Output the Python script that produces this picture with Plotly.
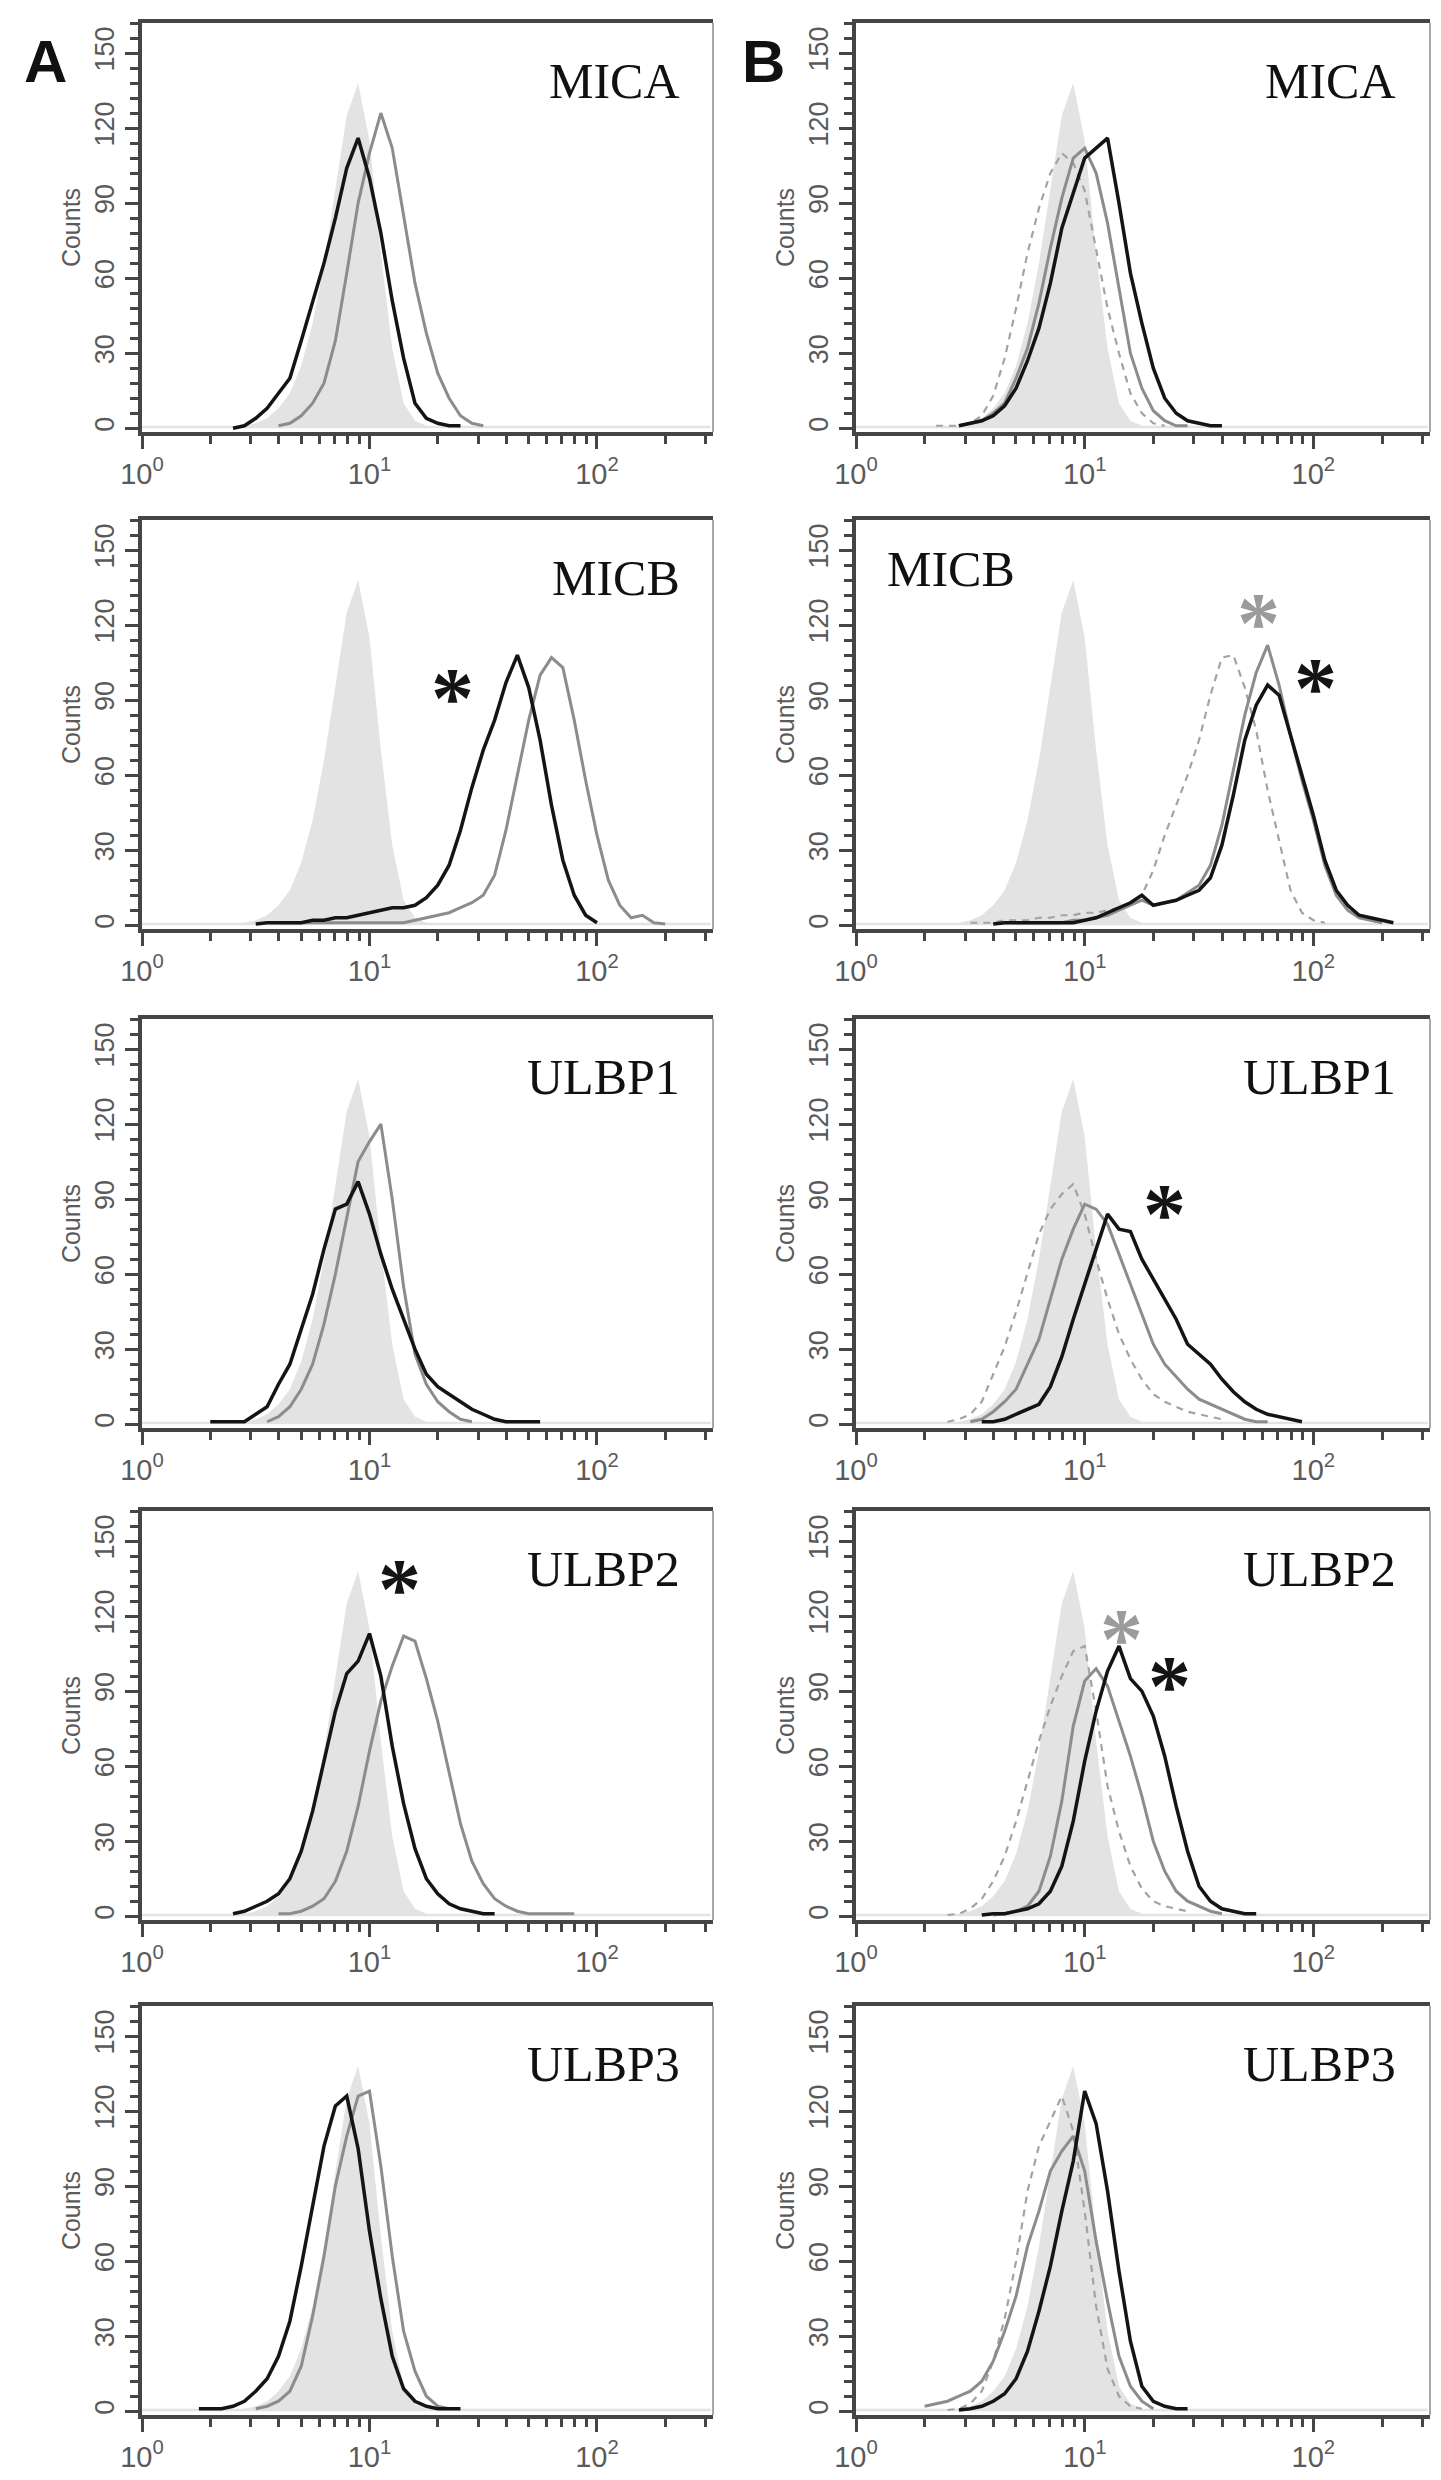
import plotly.graph_objects as go
from plotly.subplots import make_subplots

# histogram channels are spaced 0.05 decades apart; each series is
# (log10 of its first channel, counts per channel)
LOG_STEP = 0.05

MARKERS = ["MICA", "MICB", "ULBP1", "ULBP2", "ULBP3"]

# isotype control (filled), shared by all panels
CONTROL = (0.00, [1, 1, 1, 1, 1, 1, 1, 1, 1,
                  1, 2, 4, 8, 14, 25, 42, 66, 95, 125, 138, 115, 70, 32, 10, 3, 1,
                  1, 1, 1, 1, 1, 1, 1, 1, 1, 1, 1, 1, 1, 1, 1, 1, 1, 1, 1, 1, 1, 1, 1, 1, 1])

# column A: gray and black histograms
A_MICA_GRAY = (0.60, [1, 2, 5, 10, 18, 35, 62, 90, 110, 126, 112, 85, 58, 38, 22, 12, 5, 2, 1])
A_MICA_BLACK = (0.40, [0, 1, 4, 8, 14, 20, 35, 50, 66, 84, 104, 116, 100, 78, 51, 28, 10, 4, 2, 1, 1])
A_MICB_GRAY = (0.60, [1, 1, 1, 1, 1, 1, 1, 1, 1, 1, 1, 1, 2, 3, 4, 5, 7, 9, 12, 20, 38, 60, 82,
                      100, 107, 103, 82, 58, 36, 18, 8, 3, 4, 1, 0.5])
A_MICB_BLACK = (0.50, [0.5, 1, 1, 1, 1, 2, 2, 3, 3, 4, 5, 6, 7, 7, 8, 11, 16, 24, 38, 55, 70, 82,
                       97, 108, 95, 74, 48, 26, 12, 4, 1])
A_ULBP1_GRAY = (0.55, [1, 3, 7, 14, 24, 40, 60, 82, 105, 113, 120, 90, 55, 28, 16, 9, 5, 2, 1])
A_ULBP1_BLACK = (0.30, [1, 1, 1, 1, 4, 7, 16, 24, 38, 52, 70, 86, 88, 97, 84, 68, 54, 42, 30, 20,
                        15, 12, 9, 6, 4, 2, 1, 1, 1, 1])
A_ULBP2_GRAY = (0.60, [1, 1, 2, 4, 7, 14, 26, 44, 66, 86, 100, 112, 110, 95, 78, 57, 37, 22, 13,
                       7, 4, 2, 1, 1, 1, 1, 1])
A_ULBP2_BLACK = (0.40, [1, 2, 4, 6, 9, 15, 26, 42, 62, 82, 97, 102, 113, 96, 68, 45, 27, 15, 9,
                        5, 3, 2, 1, 1])
A_ULBP3_GRAY = (0.50, [1, 2, 4, 8, 18, 38, 62, 90, 110, 126, 128, 98, 62, 32, 16, 6, 2, 1])
A_ULBP3_BLACK = (0.25, [1, 1, 1, 2, 4, 8, 13, 22, 36, 58, 82, 106, 122, 126, 105, 72, 45, 22, 9,
                        4, 2, 1, 1, 1])

# column B: dashed gray, solid gray and black histograms
B_MICA_DASH = (0.35, [1, 1, 1, 2, 5, 13, 28, 48, 70, 88, 102, 110, 106, 95, 72, 48, 30, 14, 6, 2, 1])
B_MICA_GRAY = (0.45, [1, 2, 3, 6, 10, 20, 32, 50, 72, 92, 108, 112, 102, 82, 56, 30, 16, 7, 3, 1, 1])
B_MICA_BLACK = (0.45, [1, 2, 3, 5, 9, 16, 27, 40, 58, 80, 94, 108, 112, 116, 90, 62, 42, 24, 12,
                       6, 3, 2, 1, 1])
B_MICB_DASH = (0.50, [1, 1, 1, 2, 2, 2, 3, 3, 4, 4, 5, 5, 6, 7, 9, 12, 22, 36, 48, 60, 74, 92,
                      107, 108, 95, 78, 54, 34, 14, 5, 2, 1])
B_MICB_GRAY = (0.70, [1, 1, 1, 1, 1, 2, 2, 3, 4, 6, 8, 10, 8, 9, 10, 13, 16, 24, 40, 62, 84, 101,
                      112, 96, 76, 58, 42, 24, 12, 6, 3, 2, 1])
B_MICB_BLACK = (0.60, [0.5, 1, 1, 1, 1, 1, 1, 1, 2, 3, 5, 7, 9, 12, 8, 9, 10, 12, 14, 19, 32, 52,
                       74, 88, 96, 92, 76, 60, 44, 26, 14, 8, 4, 3, 2, 1])
B_ULBP1_DASH = (0.40, [1, 2, 4, 9, 20, 31, 45, 60, 76, 86, 92, 96, 84, 66, 50, 36, 26, 18, 12, 9,
                       7, 5, 4, 3, 2])
B_ULBP1_GRAY = (0.50, [1, 2, 5, 9, 14, 24, 34, 50, 66, 78, 88, 86, 80, 68, 56, 44, 32, 24, 19, 14,
                       10, 8, 6, 4, 2, 1, 1])
B_ULBP1_BLACK = (0.55, [1, 1, 2, 4, 6, 8, 15, 27, 42, 56, 70, 84, 78, 77, 66, 58, 50, 42, 32, 28,
                        24, 18, 13, 9, 6, 4, 3, 2, 1])
B_ULBP2_DASH = (0.40, [0.5, 1, 3, 7, 14, 24, 38, 54, 70, 84, 96, 106, 108, 82, 52, 34, 20, 11, 6,
                       4, 3, 2])
B_ULBP2_GRAY = (0.60, [0.5, 1, 2, 4, 10, 24, 46, 76, 94, 99, 92, 78, 64, 48, 30, 18, 10, 6, 4, 2, 1])
B_ULBP2_BLACK = (0.55, [0.5, 1, 1, 2, 3, 5, 10, 20, 38, 62, 82, 98, 108, 95, 90, 80, 64, 44, 26,
                        12, 6, 3, 2, 1, 1])
B_ULBP3_DASH = (0.40, [0.5, 1, 3, 8, 20, 37, 60, 88, 106, 116, 126, 112, 80, 42, 17, 6, 2, 1])
B_ULBP3_GRAY = (0.30, [2, 3, 4, 6, 8, 12, 20, 32, 46, 66, 80, 96, 104, 110, 96, 68, 44, 22, 10, 4, 1])
B_ULBP3_BLACK = (0.45, [0.5, 1, 2, 4, 7, 13, 24, 40, 58, 80, 100, 128, 115, 88, 56, 28, 10, 4, 2, 1, 1])

A_PANELS = [(A_MICA_GRAY, A_MICA_BLACK), (A_MICB_GRAY, A_MICB_BLACK),
            (A_ULBP1_GRAY, A_ULBP1_BLACK), (A_ULBP2_GRAY, A_ULBP2_BLACK),
            (A_ULBP3_GRAY, A_ULBP3_BLACK)]
B_PANELS = [(B_MICA_DASH, B_MICA_GRAY, B_MICA_BLACK), (B_MICB_DASH, B_MICB_GRAY, B_MICB_BLACK),
            (B_ULBP1_DASH, B_ULBP1_GRAY, B_ULBP1_BLACK), (B_ULBP2_DASH, B_ULBP2_GRAY, B_ULBP2_BLACK),
            (B_ULBP3_DASH, B_ULBP3_GRAY, B_ULBP3_BLACK)]

# significance stars: row, col, log10 channel, counts, shade
STARS = [(2, 1, 1.365, 99, "black"), (4, 1, 1.13, 139, "black"),
         (2, 2, 1.76, 129, "gray"), (2, 2, 2.01, 103, "black"),
         (3, 2, 1.35, 92, "black"),
         (4, 2, 1.16, 119, "gray"), (4, 2, 1.37, 100, "black")]

X_TICKS = [1, 10, 100]
X_TICKTEXT = ["10<sup>0</sup>", "10<sup>1</sup>", "10<sup>2</sup>"]
Y_TICKS = [0, 30, 60, 90, 120, 150]

W, H = 1441, 2480
COL_PX = {1: (134, 705), 2: (848, 1422)}
ROW_TOP = [15, 512, 1011, 1503, 1998]
ROW_H = 409

BLACK = "#141414"
GRAY = "#8c8c8c"
DASH = "#a3a3a3"
FILL = "#e3e3e3"
AXIS = "#454545"
LABEL = "#5a5a5a"


def series_xy(series):
    start, counts = series
    xs = [10 ** (start + LOG_STEP * i) for i in range(len(counts))]
    return xs, counts


def line(series, color, width, dash=None):
    xs, ys = series_xy(series)
    return go.Scatter(x=xs, y=ys, mode="lines", hoverinfo="skip",
                      line=dict(color=color, width=width, dash=dash))


fig = make_subplots(rows=5, cols=2)

for r in range(1, 6):
    for c in (1, 2):
        cx, cy = series_xy(CONTROL)
        fig.add_trace(go.Scatter(x=cx, y=cy, mode="lines", fill="tozeroy", fillcolor=FILL,
                                 line=dict(width=0, color=FILL), hoverinfo="skip"), row=r, col=c)
        if c == 1:
            gray, black = A_PANELS[r - 1]
        else:
            dash, gray, black = B_PANELS[r - 1]
            fig.add_trace(line(dash, DASH, 2.2, "7px,6px"), row=r, col=c)
        fig.add_trace(line(gray, GRAY, 3), row=r, col=c)
        fig.add_trace(line(black, BLACK, 3.5), row=r, col=c)

annotations = []
shapes = []
for r in range(1, 6):
    for c in (1, 2):
        n = (r - 1) * 2 + c
        sx = "" if n == 1 else str(n)
        x0, x1 = COL_PX[c]
        top = ROW_TOP[r - 1]
        fig.layout["xaxis" + sx].update(
            domain=[x0 / W, x1 / W], type="log", range=[0, 2.51], automargin=False,
            showline=True, linecolor=AXIS, linewidth=3.5, mirror=True,
            showgrid=False, zeroline=False,
            tickmode="array", tickvals=X_TICKS, ticktext=X_TICKTEXT,
            ticks="outside", ticklen=13, tickwidth=3, tickcolor=AXIS,
            tickfont=dict(family="Liberation Sans", size=29, color=LABEL),
            minor=dict(dtick="D1", ticks="outside", ticklen=8, tickwidth=3,
                       tickcolor=AXIS, showgrid=False))
        fig.layout["yaxis" + sx].update(
            domain=[1 - (top + ROW_H) / H, 1 - top / H], range=[-1.5, 162], automargin=False,
            showline=True, linecolor=AXIS, linewidth=3.5,
            showgrid=False, zeroline=False,
            tickmode="linear", tick0=0, dtick=30, tickangle=-90,
            ticks="outside", ticklen=13, tickwidth=3, tickcolor=AXIS,
            tickfont=dict(family="Liberation Sans", size=27, color=LABEL),
            minor=dict(dtick=6, tick0=0, ticks="outside", ticklen=8, tickwidth=3,
                       tickcolor=AXIS, showgrid=False),
            title=dict(text="Counts", standoff=4,
                       font=dict(family="Liberation Sans", size=25, color=LABEL)))
        # lighter right edge of the frame
        shapes.append(dict(type="line", xref="x%s domain" % sx, yref="y%s domain" % sx,
                           x0=1, x1=1, y0=0, y1=1, line=dict(color="#a8a8a8", width=2)))
        # marker label
        if r == 2 and c == 2:
            lab = dict(x=0.05, xanchor="left", y=0.88)
        else:
            lab = dict(x=0.945, xanchor="right", y=0.857)
        annotations.append(dict(text=MARKERS[r - 1], xref="x%s domain" % sx,
                                yref="y%s domain" % sx, yanchor="middle", showarrow=False,
                                font=dict(family="Liberation Serif", size=50, color="#111111"),
                                **lab))

for r, c, lx, cnt, shade in STARS:
    n = (r - 1) * 2 + c
    sx = "" if n == 1 else str(n)
    annotations.append(dict(text="<b>*</b>", x=lx, y=cnt, xref="x" + sx, yref="y" + sx,
                            showarrow=False, yshift=-20,
                            font=dict(family="Liberation Serif", size=86,
                                      color=BLACK if shade == "black" else "#9b9b9b")))

for letter, px in (("A", 14), ("B", 732)):
    annotations.append(dict(text="<b>%s</b>" % letter, x=px / W, y=1 - 18 / H, xref="paper",
                            yref="paper", xanchor="left", yanchor="top", showarrow=False,
                            font=dict(family="Liberation Sans", size=60, color="#111111")))

fig.update_layout(width=W, height=H, margin=dict(l=0, r=0, t=0, b=0),
                  paper_bgcolor="white", plot_bgcolor="white", showlegend=False,
                  annotations=annotations, shapes=shapes)

fig.write_html("out.html")
